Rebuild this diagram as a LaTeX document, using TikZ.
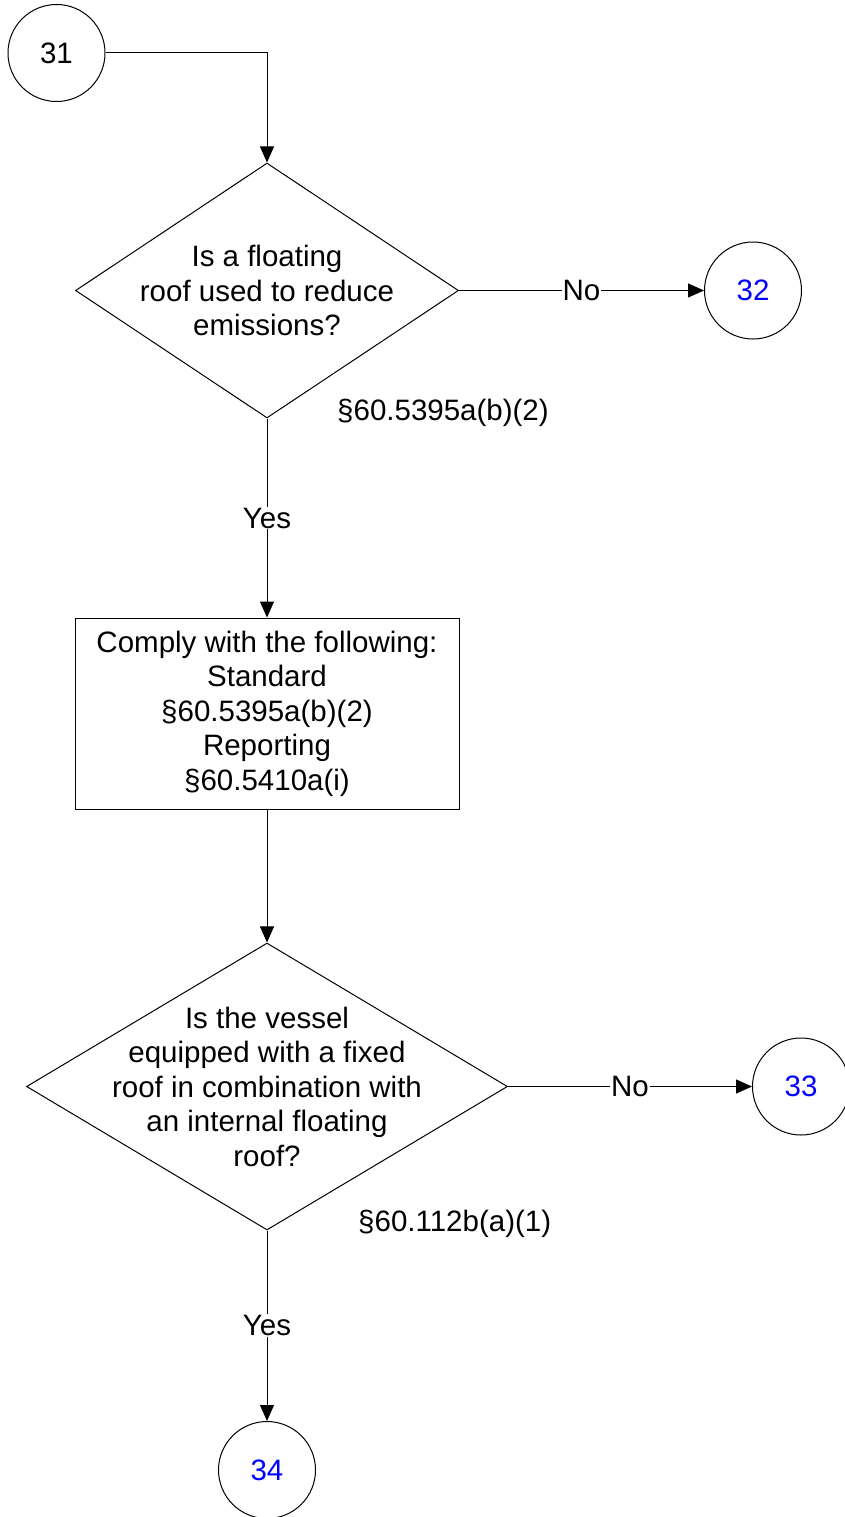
\documentclass[tikz,border=0pt]{standalone}
\usepackage{fontspec}
\setmainfont{Liberation Sans}
\usepackage{xcolor}
\usetikzlibrary{positioning, shapes.geometric, arrows.meta}

\tikzset{
  conn/.style={circle, draw, line width=1pt, minimum size=97pt, inner sep=0pt},
  decision/.style={diamond, draw, line width=1pt, inner sep=0pt},
  stepbox/.style={rectangle, draw, line width=1pt, inner sep=0pt, align=center},
  flow/.style={line width=1pt, -{Triangle[length=16pt,width=14pt]}},
  lbl/.style={fill=white, inner sep=1pt},
  cite/.style={anchor=west, inner sep=0pt},
}

\begin{document}
\begin{tikzpicture}[x=1pt, y=-1pt, font=\fontsize{29.5}{34.5}\selectfont]
        \useasboundingbox (0,0) rectangle (844,1517);

        \node[conn] (c31) at (56.5,53) {31};
        \node[decision, minimum width=383pt, minimum height=255pt] (q1) at (267,290.5) {};
        \node[align=center] (q1txt) at (q1) {Is a floating\\roof used to reduce\\emissions?};
        \node[conn, text=blue] (c32) at (753,290.5) {32};
        \node[cite] (r1) at (337,413) {§60.5395a(b)(2)};

        \node[stepbox, minimum width=384pt, minimum height=191pt] (s1) at (267,713.5)
          {Comply with the following:\\Standard\\§60.5395a(b)(2)\\Reporting\\§60.5410a(i)};

        \node[decision, minimum width=481pt, minimum height=287pt] (q2) at (267,1086.5) {};
        \node[align=center] (q2txt) at (q2) {Is the vessel\\equipped with a fixed\\roof in combination with\\an internal floating\\roof?};
        \node[conn, text=blue] (c33) at (801,1086.5) {33};
        \node[cite] (r2) at (358,1224) {§60.112b(a)(1)};

        \node[conn, text=blue] (c34) at (267,1470) {34};

        % connectors
        \draw[flow] (c31) -| (q1);
        \draw[flow] (q1) -- node[lbl] {No} (c32);
        \draw[flow] (q1) -- node[lbl] {Yes} (s1);
        \draw[flow] (s1) -- (q2);
        \draw[flow] (q2) -- node[lbl] {No} (c33);
        \draw[flow] (q2) -- node[lbl] {Yes} (c34);
      \end{tikzpicture}
\end{document}
